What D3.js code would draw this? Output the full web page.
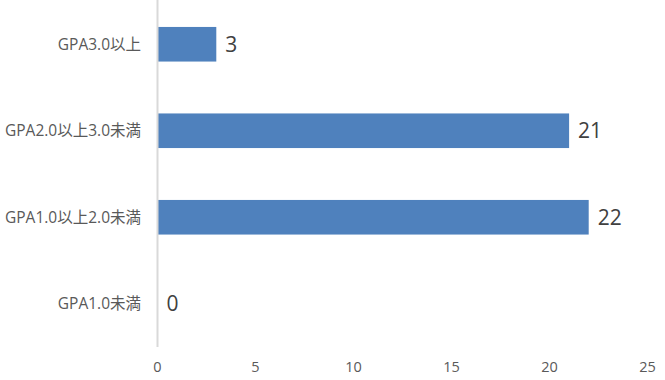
<!DOCTYPE html>
<html>
<head>
<meta charset="utf-8">
<script src="https://cdn.jsdelivr.net/npm/d3@7"></script>
<style>
  body { margin: 0; background: #fff; }
  svg text { font-family: "Open Sans", "Noto Sans CJK JP", sans-serif; }
</style>
</head>
<body>
<div id="chart"></div>
<script>
var categories = ["GPA3.0以上", "GPA2.0以上3.0未満", "GPA1.0以上2.0未満", "GPA1.0未満"];
var counts = [3, 21, 22, 0];
var xTicks = [0, 5, 10, 15, 20, 25];

var width = 665, height = 380,
    plotLeft = 157.5, plotRight = 647.5,
    plotTop = 1, plotBottom = 347;

var svg = d3.select("#chart").append("svg")
    .attr("width", width)
    .attr("height", height);

var x = d3.scaleLinear().domain([0, 25]).range([plotLeft, plotRight]);
var y = d3.scaleBand().domain(categories).range([plotTop, plotBottom])
    .paddingInner(0.6).paddingOuter(0.3);

var data = categories.map(function(c, i) { return { cat: c, value: counts[i] }; });

// bars
svg.selectAll(".bar")
    .data(data)
  .enter().append("rect")
    .attr("class", "bar")
    .attr("x", x(0))
    .attr("y", function(d) { return y(d.cat); })
    .attr("width", function(d) { return x(d.value) - x(0); })
    .attr("height", y.bandwidth())
    .style("fill", "#4f81bd");

// vertical axis line
svg.append("line")
    .attr("x1", x(0))
    .attr("x2", x(0))
    .attr("y1", 0)
    .attr("y2", plotBottom)
    .style("stroke", "#d9d9d9")
    .style("stroke-width", 2);

// category labels
svg.selectAll(".catLabel")
    .data(categories)
  .enter().append("text")
    .attr("class", "catLabel")
    .attr("x", 141)
    .attr("y", function(d) { return y(d) + y.bandwidth() / 2; })
    .attr("dy", "0.35em")
    .style("text-anchor", "end")
    .style("font-size", "15.5px")
    .style("fill", "#595959")
    .text(function(d) { return d; });

// value labels
svg.selectAll(".valLabel")
    .data(data)
  .enter().append("text")
    .attr("class", "valLabel")
    .attr("x", function(d) { return x(d.value) + 9; })
    .attr("y", function(d) { return y(d.cat) + y.bandwidth() / 2; })
    .attr("dy", "0.36em")
    .style("font-size", "21px")
    .style("fill", "#404040")
    .text(function(d) { return d.value; });

// x axis tick labels
svg.selectAll(".xLabel")
    .data(xTicks)
  .enter().append("text")
    .attr("class", "xLabel")
    .attr("x", function(d) { return x(d); })
    .attr("y", 367)
    .attr("dy", "0.35em")
    .style("text-anchor", "middle")
    .style("font-size", "14.5px")
    .style("fill", "#595959")
    .text(function(d) { return d; });
</script>
</body>
</html>
